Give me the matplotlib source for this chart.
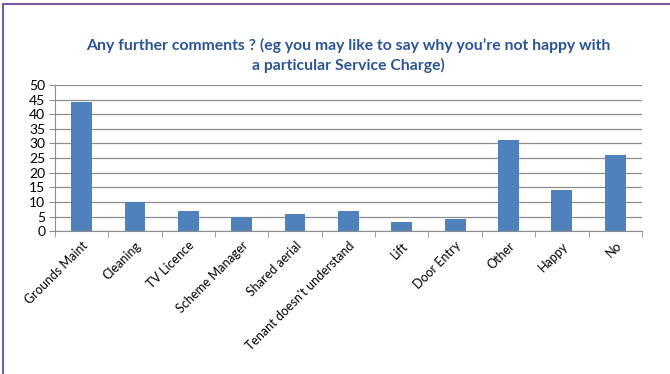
import matplotlib
matplotlib.use("Agg")
from matplotlib import pyplot as plt
from matplotlib.patches import Rectangle
import numpy as np

# chart data
categories = ["Grounds Maint", "Cleaning", "TV Licence", "Scheme Manager",
              "Shared aerial", "Tenant doesn't understand", "Lift",
              "Door Entry", "Other", "Happy", "No"]
counts = [44, 10, 7, 5, 6, 7, 3, 4, 31, 14, 26]

title = ("Any further comments ? (eg you may like to say why you\u2019re not happy with\n"
         "a particular Service Charge)")

plt.rcParams['font.family'] = ['Lato', 'DejaVu Sans']

fig = plt.figure(figsize=(6.7, 3.74), dpi=100)
fig.patch.set_facecolor("white")

# purple frame round the picture
fig.patches.append(Rectangle((0.005, -0.05), 1.2, 1.04, transform=fig.transFigure,
                             fill=False, edgecolor="#7B5BA8", linewidth=1.5))

ax = fig.add_axes([0.082, 0.382, 0.876, 0.391])
x = np.arange(len(categories))
ax.bar(x, counts, width=0.39, color="#4F81BD", zorder=3)

ax.set_xlim(-0.5, len(categories) - 0.5)
ax.set_ylim(0, 50)
ax.set_yticks(range(0, 51, 5))
ax.yaxis.grid(True, color="#8C8C8C", linewidth=0.9, zorder=0)

ax.set_xticks(x)
ax.set_xticklabels(categories, rotation=45, ha="right", rotation_mode="anchor",
                   fontsize=9)
ax.set_xticks(np.arange(len(categories) + 1) - 0.5, minor=True)
ax.tick_params(axis="x", which="major", length=0, pad=6)
ax.tick_params(axis="x", which="minor", length=4, color="#8C8C8C")
ax.tick_params(axis="y", length=4, color="#8C8C8C", labelsize=10, pad=3)

for side in ["top", "right"]:
    ax.spines[side].set_visible(False)
ax.spines["left"].set_color("#8C8C8C")
ax.spines["bottom"].set_color("#8C8C8C")

fig.text(0.52, 0.852, title, ha="center", va="center", fontsize=11.3,
         fontweight="bold", color="#2A5595", linespacing=1.4)

fig.savefig("out.png", dpi=100)
